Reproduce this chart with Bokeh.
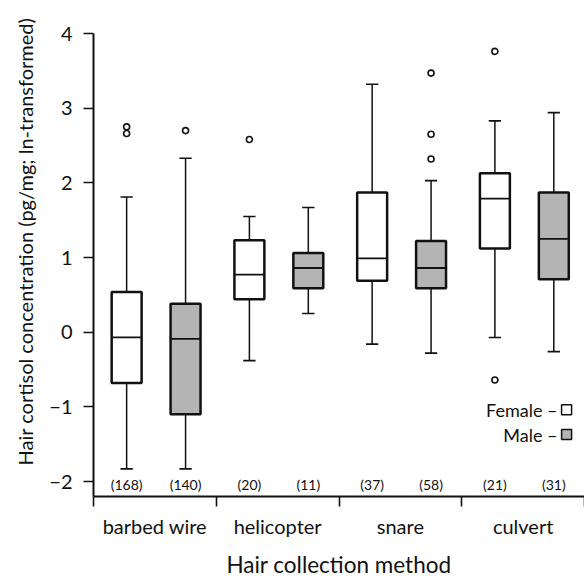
from bokeh.plotting import figure
from bokeh.models import Range1d, FixedTicker, Title
from bokeh.core.properties import value
from bokeh.embed import file_html
from bokeh.resources import INLINE

# ---- data ----
methods = ["barbed wire", "helicopter", "snare", "culvert"]
sexes = ["Female", "Male"]

f_low = [-1.83, -0.38, -0.16, -0.07]
f_q1 = [-0.68, 0.44, 0.69, 1.12]
f_med = [-0.07, 0.77, 0.99, 1.79]
f_q3 = [0.54, 1.23, 1.87, 2.13]
f_high = [1.81, 1.55, 3.32, 2.83]
f_n = [168, 20, 37, 21]
f_out = [[2.75, 2.66], [2.58], [], [3.76, -0.64]]

m_low = [-1.83, 0.25, -0.28, -0.26]
m_q1 = [-1.10, 0.59, 0.59, 0.71]
m_med = [-0.09, 0.86, 0.86, 1.25]
m_q3 = [0.38, 1.06, 1.22, 1.87]
m_high = [2.33, 1.67, 2.03, 2.94]
m_n = [140, 11, 58, 31]
m_out = [[2.70], [], [3.47, 2.65, 2.32], []]

y_ticks = [-2, -1, 0, 1, 2, 3, 4]

# ---- style ----
FONT = "Lato"
INK = "#111111"
fills = {"Female": "#ffffff", "Male": "#b4b4b4"}
offsets = {"Female": -0.23, "Male": 0.25}
BOX_W = 0.244
CAP_W = 0.1

p = figure(width=584, height=580, x_range=Range1d(0, 4), y_range=Range1d(-2.20, 4.0),
           output_backend="svg", toolbar_location=None,
           min_border_left=92, min_border_right=0, min_border_top=33, min_border_bottom=81)
p.outline_line_color = None
p.grid.visible = False
p.background_fill_color = "white"
p.border_fill_color = "white"

series = {
    "Female": (f_low, f_q1, f_med, f_q3, f_high, f_n, f_out),
    "Male": (m_low, m_q1, m_med, m_q3, m_high, m_n, m_out),
}

for sex in sexes:
    low, q1, med, q3, high, n, out = series[sex]
    xs = [i + 0.5 + offsets[sex] for i in range(len(methods))]
    # whisker stems
    p.segment(x0=xs, y0=low, x1=xs, y1=q1, line_color=INK, line_width=1.5)
    p.segment(x0=xs, y0=q3, x1=xs, y1=high, line_color=INK, line_width=1.5)
    # caps
    p.segment(x0=[x - CAP_W / 2 for x in xs], y0=low, x1=[x + CAP_W / 2 for x in xs], y1=low,
              line_color=INK, line_width=1.6)
    p.segment(x0=[x - CAP_W / 2 for x in xs], y0=high, x1=[x + CAP_W / 2 for x in xs], y1=high,
              line_color=INK, line_width=1.6)
    # boxes
    p.vbar(x=xs, width=BOX_W, bottom=q1, top=q3, fill_color=fills[sex],
           line_color=INK, line_width=2.5)
    # medians
    p.segment(x0=[x - BOX_W / 2 for x in xs], y0=med, x1=[x + BOX_W / 2 for x in xs], y1=med,
              line_color=INK, line_width=1.8)
    # outliers
    ox, oy = [], []
    for x, vals in zip(xs, out):
        for v in vals:
            ox.append(x)
            oy.append(v)
    p.scatter(x=ox, y=oy, size=6, marker="circle", fill_color="white",
              line_color=INK, line_width=1.6)
    # counts
    p.text(x=xs, y=[-2.04] * len(xs), text=["(%d)" % k for k in n],
           text_font=value(FONT), text_font_size="14px", text_align="center",
           text_baseline="middle", text_color=INK)

# legend (label then swatch)
leg_y = {"Female": -1.04, "Male": -1.37}
for sex in sexes:
    p.text(x=[3.78], y=[leg_y[sex]], text=[sex + " \u2013"], text_font=value(FONT),
           text_font_size="18px", text_align="right", text_baseline="middle", text_color=INK)
    p.scatter(x=[3.854], y=[leg_y[sex]], marker="square", size=10, fill_color=fills[sex],
              line_color=INK, line_width=1.5)

# y axis
ya = p.yaxis[0]
ya.ticker = FixedTicker(ticks=y_ticks)
ya.major_label_overrides = {t: ("\u2212%d" % -t if t < 0 else str(t)) for t in y_ticks}
ya.major_tick_out = 10
ya.major_tick_in = 0
ya.minor_tick_line_color = None
ya.major_label_standoff = 11
ya.major_label_text_font = FONT
ya.major_label_text_font_size = "20px"
ya.major_label_text_color = INK
ya.axis_line_width = 2
ya.axis_line_color = INK
ya.major_tick_line_width = 1.6
ya.major_tick_line_color = INK

# x axis: boundary ticks as minor ticks, group labels at centres
xa = p.xaxis[0]
xa.ticker = FixedTicker(ticks=[i + 0.5 for i in range(len(methods))],
                        minor_ticks=list(range(len(methods) + 1)))
xa.major_label_overrides = {i + 0.5: m for i, m in enumerate(methods)}
xa.major_tick_line_color = None
xa.major_tick_out = 10
xa.major_tick_in = 0
xa.minor_tick_out = 10
xa.minor_tick_in = 0
xa.minor_tick_line_color = INK
xa.minor_tick_line_width = 1.6
xa.major_label_standoff = 7
xa.major_label_text_font = FONT
xa.major_label_text_font_size = "20px"
xa.major_label_text_color = INK
xa.axis_line_width = 2
xa.axis_line_color = INK
xa.axis_label = "Hair collection method"
xa.axis_label_text_font = FONT
xa.axis_label_text_font_size = "22.5px"
xa.axis_label_text_font_style = "normal"
xa.axis_label_text_color = INK
xa.axis_label_standoff = 10

# y title
p.add_layout(Title(text="Hair cortisol concentration (pg/mg; ln-transformed)",
                   align="left", offset=31, text_font=FONT, text_font_size="20px",
                   text_font_style="normal", text_color=INK, standoff=20), "left")

open("out.html", "w").write(file_html(p, INLINE))
